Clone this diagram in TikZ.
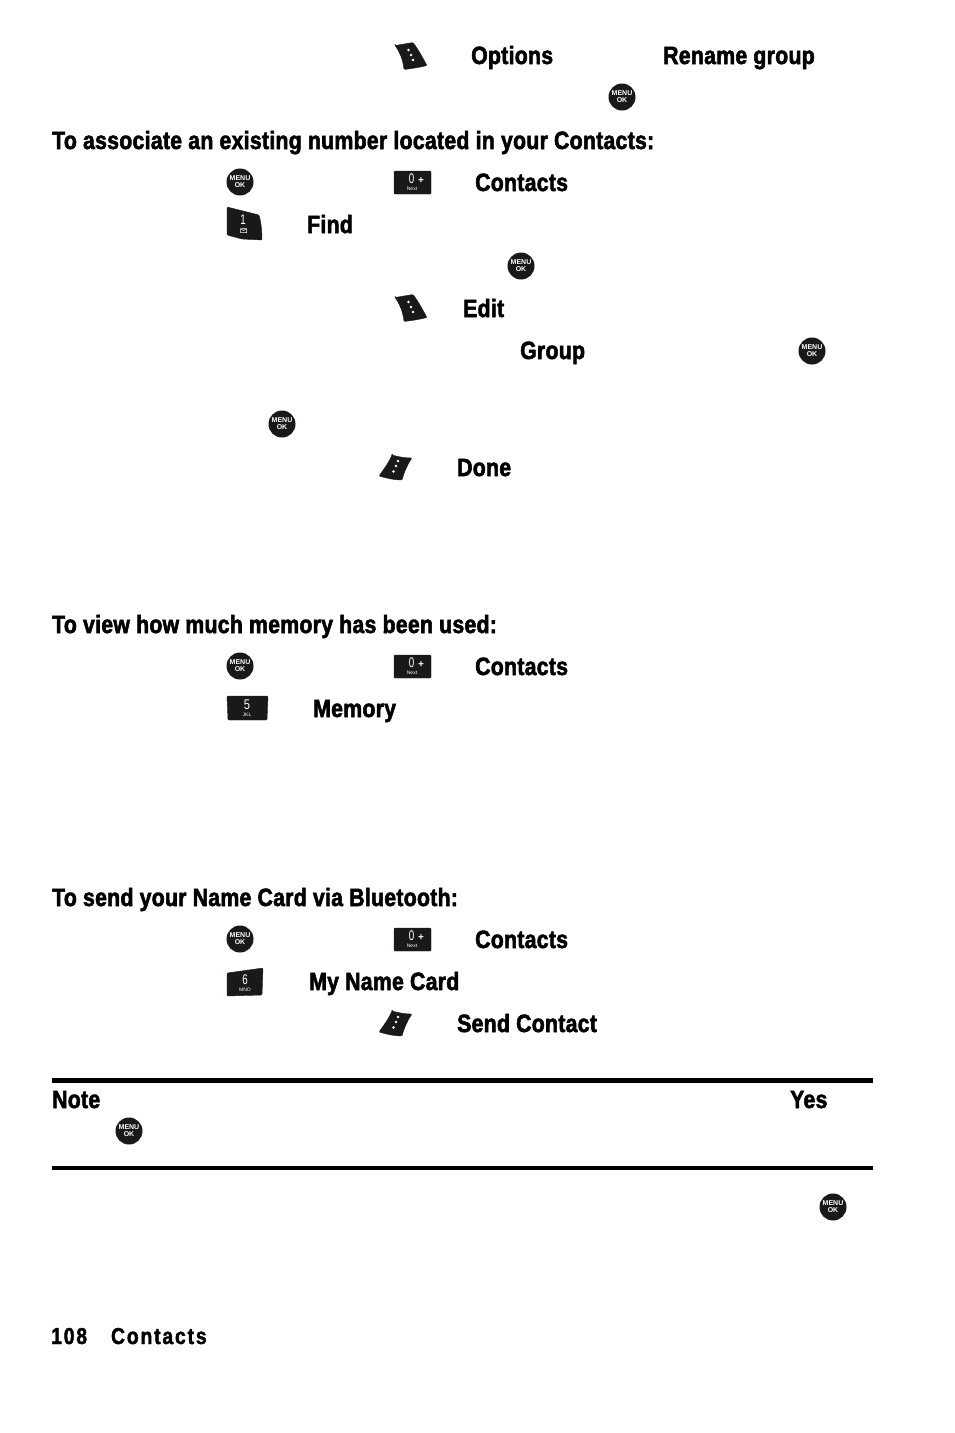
\documentclass[tikz,border=0pt]{standalone}
\usepackage{fontspec}
\usepackage{tikz}
\usetikzlibrary{positioning}
\newfontfamily\labelfont[FakeStretch=0.85,LetterSpace=1.1,BoldFeatures={FakeBold=2.2}]{Liberation Sans}
\newfontfamily\footfont[FakeStretch=0.84,LetterSpace=8,BoldFeatures={FakeBold=1.8}]{Liberation Sans}
\newfontfamily\keyfont{Liberation Sans}
\definecolor{keyblack}{HTML}{1A1818}
\tikzstyle{label} = [anchor=base west, inner sep=0pt, yshift=1pt, font=\labelfont\bfseries\fontsize{25}{25}\selectfont]
\tikzstyle{keylabel} = [text=white, inner sep=0pt, align=center]
\tikzstyle{keybody} = [fill=keyblack, draw=keyblack, line width=0.4pt, rounded corners=1pt]
\tikzstyle{rule} = [line width=4.5pt]
\tikzset{
  menukey/.pic={
    \fill[keyblack] (0,0) circle (13.5);
    \node[keylabel, font=\keyfont\bfseries\fontsize{7}{7.4}\selectfont] (-txt) at (0,0) {MENU\\[-0.2pt]OK};
  },
  softright/.pic={
    \fill[keybody] (0,0) -- (18,-3) .. controls (24,5) and (28,13) .. (32,20) .. controls (24,22) and (17,23) .. (9,24) .. controls (8,15) and (5,7) .. cycle;
    \fill[white] (13.5,4.5) circle (1.4) (16,9.5) circle (1.4) (18,14.5) circle (1.4);
  },
  softleft/.pic={
    \fill[keybody] (13,0) .. controls (20,2) and (27,3) .. (33,3) .. controls (28,10) and (25,18) .. (23,25) .. controls (15,25) and (7,23) .. (0,21) .. controls (5,14) and (10,7) .. cycle;
    \fill[white] (19,6) circle (1.4) (17,11) circle (1.4) (14.5,16.5) circle (1.4);
  },
  zerokey/.pic={
    \fill[keybody] (0,0) rectangle (37,23);
    \node[keylabel, font=\keyfont\fontsize{14}{14}\selectfont, xscale=0.7] (-num) at (17.5,8) {0};
    \node[keylabel, font=\keyfont\bfseries\fontsize{10}{10}\selectfont] (-plus) at (27,10) {+};
    \node[keylabel, font=\keyfont\fontsize{5}{5}\selectfont] (-sub) at (18,17.5) {Next};
  },
  onekey/.pic={
    \fill[keybody] (0,0) -- (32,8) .. controls (34,15) and (35,25) .. (35,33) -- (15,32) -- (0,28) -- cycle;
    \node[keylabel, font=\keyfont\fontsize{14}{14}\selectfont, xscale=0.7] (-num) at (16,13) {1};
    \draw[white, line width=0.5pt] (13.5,21.5) rectangle (19.5,25.5) (13.5,21.5) -- (16.5,23.5) -- (19.5,21.5);
  },
  fivekey/.pic={
    \fill[keybody] (0,0) -- (41,0) -- (40,24) -- (1,24) -- cycle;
    \node[keylabel, font=\keyfont\fontsize{14}{14}\selectfont, xscale=0.8] (-num) at (20,9) {5};
    \node[keylabel, font=\keyfont\fontsize{5}{5}\selectfont] (-sub) at (20,18.5) {JKL};
  },
  sixkey/.pic={
    \fill[keybody] (0,5) -- (36,0) -- (35,27) -- (0,28) -- cycle;
    \node[keylabel, font=\keyfont\fontsize{14}{14}\selectfont, xscale=0.7] (-num) at (18,12) {6};
    \node[keylabel, font=\keyfont\fontsize{5}{5}\selectfont] (-sub) at (18,21.5) {MNO};
  }
}
\begin{document}
\begin{tikzpicture}[x=1pt, y=-1pt]
        \useasboundingbox (0,0) rectangle (954,1433);

        % First lines
        \pic (softa) at (395,45.5) {softright};
        \node[label] (options) at (471,65) {Options};
        \node[label] (rename) at (663,65) {Rename group};
        \pic (oka) at (622,97) {menukey};

        % Associate a number
        \node[label] (assoc) at (52,150) {To associate an existing number located in your Contacts:};
        \pic (okb) at (240,182) {menukey};
        \pic (zeroa) at (394,171) {zerokey};
        \node[label] (contactsa) at (475,192) {Contacts};
        \pic (onea) at (227,207) {onekey};
        \node[label] (find) at (307,234) {Find};
        \pic (okc) at (521,266) {menukey};
        \pic (softb) at (395,297.5) {softright};
        \node[label] (edit) at (463,318) {Edit};
        \node[label] (group) at (520,360) {Group};
        \pic (okd) at (812,351) {menukey};
        \pic (oke) at (282,424) {menukey};
        \pic (softc) at (379,455) {softleft};
        \node[label] (done) at (457,477) {Done};

        % Memory
        \node[label] (memview) at (52,634) {To view how much memory has been used:};
        \pic (okf) at (240,666) {menukey};
        \pic (zerob) at (394,655) {zerokey};
        \node[label] (contactsb) at (475,676) {Contacts};
        \pic (fivea) at (227,696) {fivekey};
        \node[label] (memory) at (313,718) {Memory};

        % Name card
        \node[label] (sendcard) at (52,907) {To send your Name Card via Bluetooth:};
        \pic (okg) at (240,939) {menukey};
        \pic (zeroc) at (394,928) {zerokey};
        \node[label] (contactsc) at (475,949) {Contacts};
        \pic (sixa) at (227,968) {sixkey};
        \node[label] (namecard) at (309,991) {My Name Card};
        \pic (softd) at (379,1011) {softleft};
        \node[label] (sendcontact) at (457,1033) {Send Contact};

        % Note box
        \coordinate (rulea) at (52,1080.5);
        \coordinate (ruleb) at (873,1080.5);
        \coordinate (rulec) at (52,1168);
        \coordinate (ruled) at (873,1168);
        \draw[rule] (rulea) -- (ruleb);
        \draw[rule] (rulec) -- (ruled);
        \node[label] (note) at (52,1109) {Note};
        \node[label] (yes) at (790,1109) {Yes};
        \pic (okh) at (129,1131) {menukey};
        \pic (oki) at (833,1207) {menukey};

        % Footer
        \node[label, font=\footfont\bfseries\fontsize{23}{23}\selectfont] (footer) at (51,1345) {108\hspace{24pt}Contacts};
\end{tikzpicture}
\end{document}
